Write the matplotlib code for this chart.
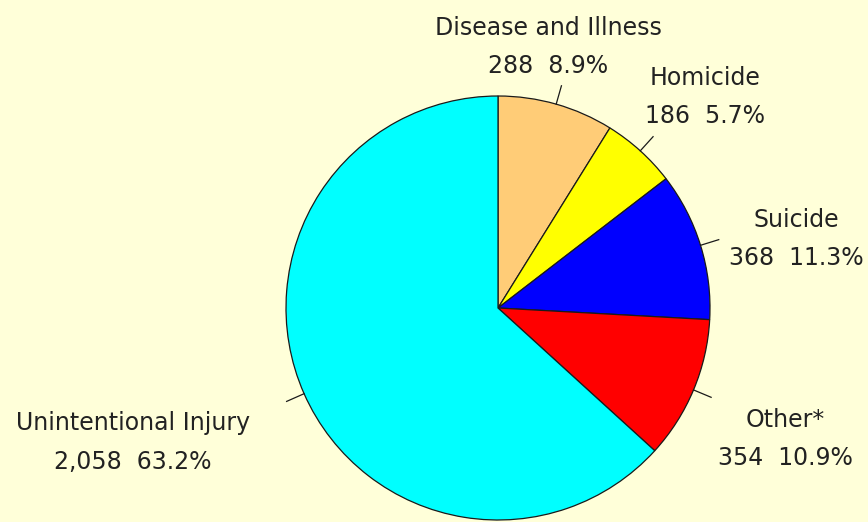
import numpy as np
import matplotlib.pyplot as plt

# Fatal occupational injuries by cause
categories = ['Disease and Illness', 'Homicide', 'Suicide', 'Other*', 'Unintentional Injury']
counts = [288, 186, 368, 354, 2058]
colors = ['#FFCC77', '#FFFF00', '#0000FF', '#FF0000', '#00FFFF']

# label offsets (pixels) from the end of each leader tick
offsets = [(-13, 39), (52, 40), (78, 1), (74, -42), (-154, -41)]

bg = '#FFFFD9'
fig = plt.figure(figsize=(8.68, 5.22), dpi=100, facecolor=bg)
ax = fig.add_axes([0, 0, 1, 1])
ax.set_facecolor(bg)

cx, cy, R = 498, 214, 212
wedges, _ = ax.pie(counts, colors=colors, startangle=90, counterclock=False,
                   center=(cx, cy), radius=R,
                   wedgeprops=dict(edgecolor='#1a1a1a', linewidth=0.9))

total = sum(counts)
for w, name, n, off in zip(wedges, categories, counts, offsets):
    mid = np.deg2rad((w.theta1 + w.theta2) / 2)
    x0, y0 = cx + R * np.cos(mid), cy + R * np.sin(mid)
    x1, y1 = cx + 1.09 * R * np.cos(mid), cy + 1.09 * R * np.sin(mid)
    ax.plot([x0, x1], [y0, y1], color='#1a1a1a', lw=0.9)
    ax.annotate(f"{name}\n{n:,}  {100 * n / total:.1f}%", (x1, y1),
                xytext=off, textcoords='offset pixels',
                ha='center', va='center', fontsize=17, color='#222222',
                linespacing=1.75, family='DejaVu Sans')

ax.set_xlim(0, 868)
ax.set_ylim(0, 522)
ax.set_aspect('equal')
ax.axis('off')

fig.savefig('out.png', dpi=100, facecolor=bg)
